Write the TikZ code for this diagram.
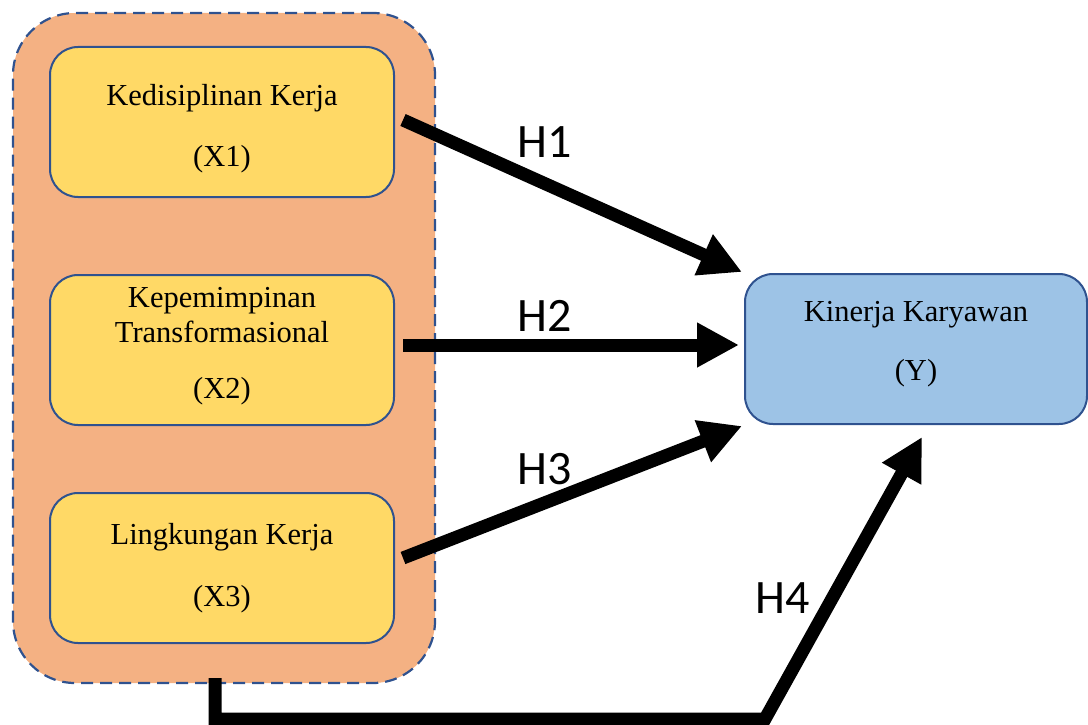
\documentclass[tikz,border=0pt]{standalone}
\usepackage{fontspec}
\setmainfont{Liberation Serif}
\newfontfamily\hfont{Carlito}
\usetikzlibrary{arrows.meta}
\definecolor{grpfill}{HTML}{F4B183}
\definecolor{varfill}{HTML}{FFD966}
\definecolor{yfill}{HTML}{9DC3E6}
\definecolor{edge}{HTML}{2F528F}
\tikzset{
  varbox/.style={draw=edge, line width=2pt, rounded corners=28pt, fill=varfill,
    minimum width=344pt, minimum height=150pt, align=center, inner sep=0pt,
    font=\fontsize{30.5}{35}\selectfont},
  ybox/.style={varbox, fill=yfill, minimum width=342pt},
  grpbox/.style={draw=edge, line width=2.2pt, dash pattern=on 12pt off 7pt,
    rounded corners=62pt, fill=grpfill, minimum width=422pt, minimum height=670pt, inner sep=0pt},
  conn/.style={line width=13pt, -{Triangle[length=42pt,width=42pt]}},
  hlabel/.style={font=\hfont\fontsize{48}{52}\selectfont, inner sep=0pt}
}
\begin{document}
\begin{tikzpicture}[x=1pt,y=-1pt]
\useasboundingbox (0,0) rectangle (1088,725);
\node[grpbox] (grp) at (224,348) {};
\node[varbox] (x1) at (222,122) {\rule{0pt}{35pt}Kedisiplinan Kerja\\[26pt](X1)};
\node[varbox] (x2) at (222,350) {Kepemimpinan\\Transformasional\\[21pt](X2)\rule[-15pt]{0pt}{0pt}};
\node[varbox] (x3) at (222,568) {Lingkungan Kerja\\[27pt](X3)};
\node[ybox] (y) at (916,349) {Kinerja Karyawan\\[24pt](Y)\rule[-16pt]{0pt}{0pt}};
\coordinate (c4) at (765,719);
\draw[conn] ([xshift=8pt,yshift=2pt]x1.east) -- ([xshift=-2pt,yshift=1pt]y.north west);
\draw[conn] ([xshift=8pt,yshift=5pt]x2.east) -- ([xshift=-5pt,yshift=4pt]y.west);
\draw[conn] ([xshift=8pt,yshift=10pt]x3.east) -- ([xshift=-2pt,yshift=-1pt]y.south west);
\draw[conn, line join=miter] ([xshift=-9pt,yshift=6pt]grp.south) |- (c4) -- ([xshift=6pt,yshift=-12pt]y.south);
\node[hlabel] (h1) at (545,142) {H1};
\node[hlabel] (h2) at (545,316) {H2};
\node[hlabel] (h3) at (545,469) {H3};
\node[hlabel] (h4) at (783,598) {H4};
\end{tikzpicture}
\end{document}
